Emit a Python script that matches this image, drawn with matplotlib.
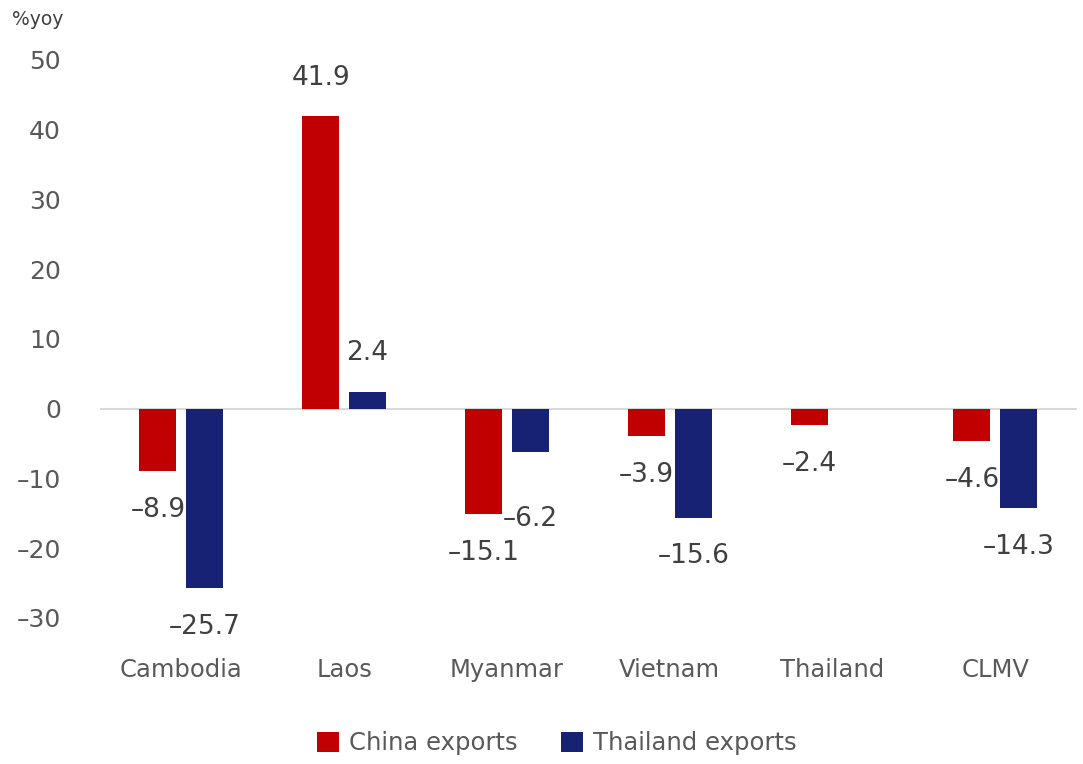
import matplotlib
matplotlib.use("Agg")
import matplotlib.pyplot as plt
import numpy as np

### Data ###
categories = ["Cambodia", "Laos", "Myanmar", "Vietnam", "Thailand", "CLMV"]
china_exports = [-8.9, 41.9, -15.1, -3.9, -2.4, -4.6]
thailand_exports = [-25.7, 2.4, -6.2, -15.6, np.nan, -14.3]
yticks = [-30, -20, -10, 0, 10, 20, 30, 40, 50]

### Style ###
plt.rcParams["font.family"] = ["DejaVu Sans"]
plt.rcParams["axes.unicode_minus"] = False
red = "#c00000"
navy = "#172275"
tick_gray = "#595959"
label_gray = "#404040"
DASH = "\u2013"   # the chart uses a dash wider than a hyphen for negatives


def fmt(v, spec):
    s = spec % v
    return s.replace("-", DASH)


### Plotting ###
fig = plt.figure(figsize=(10.83, 7.64), dpi=100)
ax = fig.add_axes([0.0923, 0.1911, 0.902, 0.7304])

x = np.arange(len(categories))
w = 0.227
off = 0.144
b1 = ax.bar(x - off, china_exports, w, color=red, label="China exports")
b2 = ax.bar(x + off, thailand_exports, w, color=navy, label="Thailand exports")

ax.set_xlim(-0.5, 5.5)
ax.set_ylim(-30, 50)
ax.axhline(0, color="#d9d9d9", lw=1.5, zorder=0)
for s in ax.spines.values():
    s.set_visible(False)

ax.set_yticks(yticks)
ax.set_yticklabels([fmt(t, "%d") for t in yticks])
ax.tick_params(axis="y", length=0, pad=28, labelsize=18, labelcolor=tick_gray)
ax.set_xticks(x)
ax.set_xticklabels(categories)
ax.tick_params(axis="x", length=0, pad=29, labelsize=17.5, labelcolor=tick_gray)


# data labels, outside end of bars
def add_labels(xs, vals, extra=None):
    for i, (xi, v) in enumerate(zip(xs, vals)):
        if np.isnan(v):
            continue
        dy = 28 if v >= 0 else -28
        if extra and i in extra:
            dy = extra[i]
        ax.annotate(fmt(v, "%.1f"), (xi, v), xytext=(0, dy), textcoords="offset points",
                    ha="center", va="center", fontsize=19, color=label_gray,
                    annotation_clip=False)


add_labels(x - off, china_exports)
add_labels(x + off, thailand_exports, extra={2: -48})

fig.text(0.011, 0.975, "%yoy", fontsize=13.5, color=label_gray, ha="left", va="center")

fig.legend(handles=[b1, b2], loc="center", bbox_to_anchor=(0.514, 0.027), ncol=2,
           frameon=False, fontsize=17.5, labelcolor=tick_gray,
           handlelength=0.9, handleheight=0.9, handletextpad=0.4, columnspacing=1.8)

plt.savefig("out.png", dpi=100)
